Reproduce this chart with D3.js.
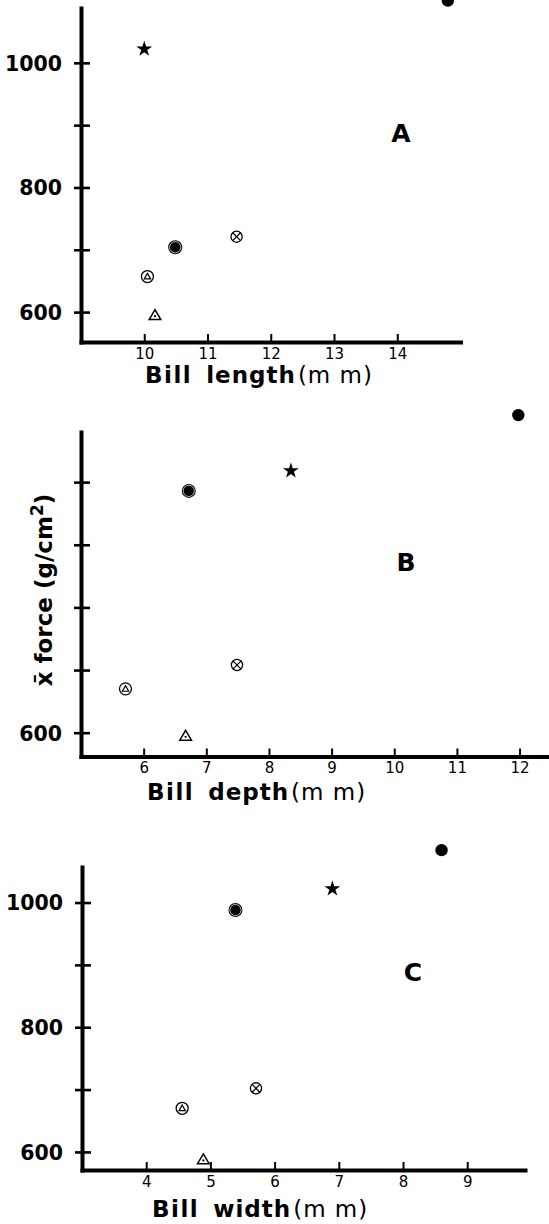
<!DOCTYPE html>
<html>
<head>
<meta charset="utf-8">
<script src="https://cdn.jsdelivr.net/npm/d3@7"></script>
<style>
  body { margin: 0; background: #fff; }
  svg { display: block; }
</style>
</head>
<body>
<svg id="chart" width="549" height="1224"></svg>
<script>
// marker key for each species, same order in every panel
var species = ["star", "dot", "ringDot", "crossCircle", "triCircle", "triangle"];

// panel A: bill length (mm) / mean force (g/cm2)
var lengthX = [10.0, 14.8, 10.49, 11.46, 10.05, 10.17];
var lengthY = [1022, 1100, 704, 721, 657, 595];
// panel B: bill depth
var depthX = [8.35, 11.98, 6.72, 7.49, 5.71, 6.67];
var depthY = [1018, 1107, 986, 708, 670, 595];
// panel C: bill width
var widthX = [6.9, 8.6, 5.39, 5.71, 4.56, 4.89];
var widthY = [1022, 1084, 988, 702, 670, 588];

var lengthTicks = [10, 11, 12, 13, 14];
var depthTicks = [6, 7, 8, 9, 10, 11, 12];
var widthTicks = [4, 5, 6, 7, 8, 9];
var forceTicks = [600, 700, 800, 900, 1000];
var forceLabelsAC = [600, 800, 1000];
var forceLabelsB = [600];

var svg = d3.select("#chart");
var FONT = "'DejaVu Sans', sans-serif";

var panels = [
  { xs: lengthX, ys: lengthY, xTicks: lengthTicks, yLabels: forceLabelsAC,
    xDom: [9, 15], yDom: [552, 1088], left: 81, right: 460.5, top: 8, bottom: 342,
    word: "length", letter: "A", lx: 401, ly: 142, tx: 145, ty: 383 },
  { xs: depthX, ys: depthY, xTicks: depthTicks, yLabels: forceLabelsB,
    xDom: [5, 12.47], yDom: [562, 1080], left: 81, right: 549, top: 432, bottom: 756.5,
    word: "depth", letter: "B", lx: 406, ly: 571, tx: 147, ty: 800 },
  { xs: widthX, ys: widthY, xTicks: widthTicks, yLabels: forceLabelsAC,
    xDom: [3, 9.9], yDom: [571, 1057], left: 82, right: 525, top: 867, bottom: 1170,
    word: "width", letter: "C", lx: 413, ly: 981, tx: 152, ty: 1217 }
];

function drawMarker(g, key, cx, cy) {
  var m = g.append("g").attr("transform", "translate(" + cx + "," + cy + ")");
  if (key === "star") {
    m.append("path").attr("d", d3.symbol().type(d3.symbolStar).size(78)()).attr("fill", "#000");
  } else if (key === "dot") {
    m.append("circle").attr("r", 6.2).attr("fill", "#000");
  } else if (key === "ringDot") {
    m.append("circle").attr("r", 7).attr("fill", "#000");
    m.append("circle").attr("r", 5.6).attr("fill", "none").attr("stroke", "#fff").attr("stroke-width", 0.7);
  } else if (key === "crossCircle") {
    m.append("circle").attr("r", 5.6).attr("fill", "#fff").attr("stroke", "#000").attr("stroke-width", 1.3);
    var k = 3.9;
    m.append("path").attr("d", "M" + -k + "," + -k + "L" + k + "," + k + "M" + k + "," + -k + "L" + -k + "," + k)
      .attr("stroke", "#000").attr("stroke-width", 1.2);
  } else if (key === "triCircle") {
    m.append("circle").attr("r", 6).attr("fill", "#fff").attr("stroke", "#000").attr("stroke-width", 1.3);
    m.append("path").attr("d", "M0,-3.2L3.2,2.4L-3.2,2.4Z").attr("fill", "none")
      .attr("stroke", "#000").attr("stroke-width", 1.2);
  } else if (key === "triangle") {
    m.append("path").attr("d", "M0,-5.5L5.8,4.3L-5.8,4.3Z").attr("fill", "#fff")
      .attr("stroke", "#000").attr("stroke-width", 1.5).attr("stroke-linejoin", "miter");
    m.append("circle").attr("cy", 1).attr("r", 1.1).attr("fill", "#000");
  }
}

panels.forEach(function (p) {
  var x = d3.scaleLinear().domain(p.xDom).range([p.left, p.right]);
  var y = d3.scaleLinear().domain(p.yDom).range([p.bottom, p.top]);
  var g = svg.append("g");

  // y axis, ticks cross the line
  var ya = g.append("g").attr("transform", "translate(" + p.left + ",0)")
    .call(d3.axisLeft(y).tickValues(forceTicks).tickSizeOuter(0).tickPadding(13)
      .tickFormat(function (d) { return p.yLabels.indexOf(d) >= 0 ? d : ""; }));
  ya.select(".domain").attr("stroke-width", 4).attr("stroke-linecap", "square");
  ya.selectAll(".tick line").attr("x1", -7).attr("x2", 9).attr("stroke-width", 2.6);
  ya.selectAll(".tick text").attr("font-family", FONT).attr("font-weight", "bold")
    .attr("font-size", 20.5).attr("fill", "#000").attr("dy", "0.36em");

  // x axis, ticks pointing up
  var xa = g.append("g").attr("transform", "translate(0," + p.bottom + ")")
    .call(d3.axisBottom(x).tickValues(p.xTicks).tickSizeInner(-8).tickSizeOuter(0).tickPadding(6)
      .tickFormat(d3.format("d")));
  xa.select(".domain").attr("stroke-width", 4).attr("stroke-linecap", "square");
  xa.selectAll(".tick line").attr("stroke-width", 2);
  xa.selectAll(".tick text").attr("font-family", FONT).attr("font-size", 15)
    .attr("fill", "#000");

  // x title
  var t = g.append("text").attr("x", p.tx).attr("y", p.ty)
    .attr("font-family", FONT).attr("font-size", 23).attr("fill", "#000");
  t.append("tspan").attr("font-weight", "bold").attr("letter-spacing", 1.5).text("Bill");
  t.append("tspan").attr("dx", 14).attr("font-weight", "bold").attr("letter-spacing", 1).text(p.word);
  t.append("tspan").attr("dx", 2).attr("font-weight", "normal").attr("letter-spacing", 1).text("(m m)");

  // panel letter
  g.append("text").attr("x", p.lx).attr("y", p.ly).attr("text-anchor", "middle")
    .attr("font-family", FONT).attr("font-weight", "bold").attr("font-size", 25)
    .text(p.letter);

  species.forEach(function (key, i) {
    drawMarker(g, key, x(p.xs[i]), y(p.ys[i]));
  });
});

// shared y title on the middle panel
var yt = svg.append("text").attr("transform", "translate(52,590) rotate(-90)")
  .attr("text-anchor", "middle").attr("font-family", FONT).attr("font-weight", "bold")
  .attr("font-size", 23).attr("fill", "#000");
yt.append("tspan").text("x\u0304 force (g/cm");
yt.append("tspan").attr("dy", -9).attr("font-size", 17).text("2");
yt.append("tspan").attr("dy", 9).text(")");
</script>
</body>
</html>
